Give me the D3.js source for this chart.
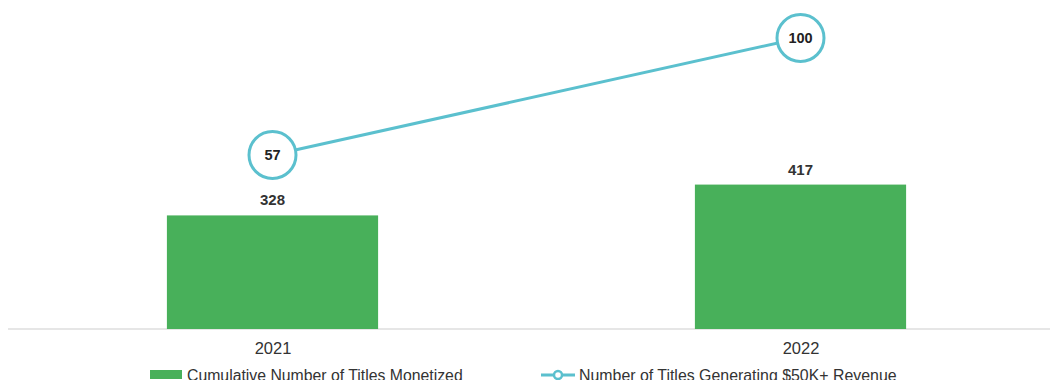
<!DOCTYPE html>
<html>
<head>
<meta charset="utf-8">
<script src="https://cdn.jsdelivr.net/npm/d3@7"></script>
<style>
  body { margin: 0; background: #fff; }
  text { font-family: "Liberation Sans", Arial, sans-serif; }
</style>
</head>
<body>
<script>
// chart data
const years = ["2021", "2022"];
const titlesMonetized = [328, 417];
const titles50k = [57, 100];
const legendLabels = ["Cumulative Number of Titles Monetized", "Number of Titles Generating $50K+ Revenue"];

const width = 1050, height = 380;
const baseY = 329;
const green = "#48b05a", teal = "#5bc0ce";

const svg = d3.select("body").append("svg")
  .attr("width", width)
  .attr("height", height);

// scales
const x = d3.scalePoint().domain(years).range([8.5, 1064.5]).padding(0.5);
const barW = x.step() * 0.4;
const y = d3.scaleLinear().domain([0, 950]).range([baseY, 0]);
const y2 = d3.scaleLinear().domain([0, 100]).range([310, 38]);

// baseline
svg.append("line")
  .attr("x1", 8).attr("x2", width)
  .attr("y1", baseY).attr("y2", baseY)
  .attr("stroke", "#e6e6e6").attr("stroke-width", 2);

// bars
svg.selectAll("rect.bar")
  .data(years)
  .enter().append("rect")
  .attr("class", "bar")
  .attr("x", d => x(d) - barW / 2)
  .attr("width", barW)
  .attr("y", (d, i) => y(titlesMonetized[i]))
  .attr("height", (d, i) => baseY - y(titlesMonetized[i]))
  .attr("fill", green);

svg.selectAll("text.barlabel")
  .data(years)
  .enter().append("text")
  .attr("class", "barlabel")
  .attr("x", d => x(d))
  .attr("y", (d, i) => y(titlesMonetized[i]) - 10)
  .attr("text-anchor", "middle")
  .attr("font-size", 15).attr("font-weight", "bold").attr("fill", "#333")
  .text((d, i) => titlesMonetized[i]);

// x axis labels
svg.append("g")
  .attr("transform", `translate(0, ${baseY})`)
  .call(d3.axisBottom(x).tickSize(0).tickPadding(13))
  .call(g => g.select(".domain").remove())
  .call(g => g.selectAll("text")
    .attr("font-size", 16.5).attr("fill", "#333")
    .attr("font-family", "Liberation Sans, Arial, sans-serif"));

// line series
const line = d3.line()
  .x(d => x(d.year))
  .y(d => y2(d.value));
const pts = years.map((yr, i) => ({ year: yr, value: titles50k[i] }));

svg.append("path")
  .datum(pts)
  .attr("d", line)
  .attr("fill", "none")
  .attr("stroke", teal)
  .attr("stroke-width", 3);

svg.selectAll("circle.pt")
  .data(pts)
  .enter().append("circle")
  .attr("class", "pt")
  .attr("cx", d => x(d.year))
  .attr("cy", d => y2(d.value))
  .attr("r", 23.5)
  .attr("fill", "#fff")
  .attr("stroke", teal)
  .attr("stroke-width", 3);

svg.selectAll("text.ptlabel")
  .data(pts)
  .enter().append("text")
  .attr("class", "ptlabel")
  .attr("x", d => x(d.year))
  .attr("y", d => y2(d.value))
  .attr("dy", "0.35em")
  .attr("text-anchor", "middle")
  .attr("font-size", 14.5).attr("font-weight", "bold").attr("fill", "#222")
  .text(d => d.value);

// legend (cut at the bottom edge, as in the original)
const legY = 375;
const leg1 = svg.append("g");
leg1.append("rect")
  .attr("x", 150).attr("y", legY - 5)
  .attr("width", 32).attr("height", 9)
  .attr("fill", green);
leg1.append("text")
  .attr("x", 187).attr("y", legY)
  .attr("dy", "0.35em")
  .attr("font-size", 15.8).attr("fill", "#333")
  .text(legendLabels[0]);

const leg2 = svg.append("g");
leg2.append("line")
  .attr("x1", 541).attr("x2", 575)
  .attr("y1", legY).attr("y2", legY)
  .attr("stroke", teal).attr("stroke-width", 3);
leg2.append("circle")
  .attr("cx", 558).attr("cy", legY).attr("r", 4)
  .attr("fill", "#fff").attr("stroke", teal).attr("stroke-width", 2.5);
leg2.append("text")
  .attr("x", 579).attr("y", legY)
  .attr("dy", "0.35em")
  .attr("font-size", 15.9).attr("fill", "#333")
  .text(legendLabels[1]);
</script>
</body>
</html>
